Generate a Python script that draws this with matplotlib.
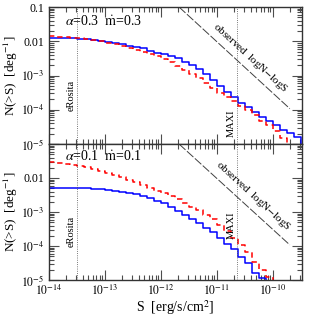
import numpy as np
import matplotlib
matplotlib.use('Agg')
import matplotlib.pyplot as plt
from matplotlib.ticker import FixedLocator, FixedFormatter, LogLocator, NullFormatter

plt.rcParams['font.family'] = ['Liberation Serif', 'DejaVu Serif']
plt.rcParams['mathtext.fontset'] = 'stix'

# log10 S bin edges (0.125 dex bins starting at 1e-14)
log_s_start = -14.0
log_s_step = 0.125

# log10 N(>S) per bin
top_blue = [-1.91, -1.91, -1.91, -1.91, -1.92, -1.93, -1.95, -1.98, -2.01, -2.05,
            -2.09, -2.13, -2.17, -2.21, -2.28, -2.33, -2.37, -2.42, -2.50, -2.60,
            -2.70, -2.82, -2.97, -3.12, -3.30, -3.47, -3.62, -3.80, -3.93, -4.07,
            -4.22, -4.33, -4.45, -4.58, -4.68, -4.80]
top_red = [-1.86, -1.88, -1.89, -1.90, -1.91, -1.93, -1.96, -2.00, -2.04, -2.08,
           -2.13, -2.19, -2.25, -2.31, -2.38, -2.44, -2.51, -2.60, -2.71, -2.83,
           -2.95, -3.07, -3.22, -3.37, -3.52, -3.63, -3.75, -3.90, -4.02, -4.15,
           -4.32, -4.45, -4.62, -4.83]
bot_blue = [-2.29, -2.29, -2.29, -2.29, -2.29, -2.30, -2.31, -2.33, -2.35, -2.37,
            -2.40, -2.44, -2.48, -2.52, -2.60, -2.67, -2.74, -2.85, -2.96, -3.08,
            -3.20, -3.32, -3.47, -3.60, -3.75, -3.95, -4.10, -4.32, -4.50, -4.80,
            -4.94]
bot_red = [-1.53, -1.56, -1.59, -1.62, -1.65, -1.69, -1.73, -1.78, -1.84, -1.90,
           -1.97, -2.05, -2.13, -2.22, -2.30, -2.37, -2.43, -2.52, -2.62, -2.73,
           -2.85, -2.95, -3.08, -3.22, -3.38, -3.55, -3.75, -3.97, -4.18, -4.48,
           -4.72, -4.90]

panel_labels = [r'$\alpha$=0.3  $\dot{\rm m}$=0.3', r'$\alpha$=0.1  $\dot{\rm m}$=0.1']

S_erosita = 3.16e-14
S_maxi = 2.3e-11

# observed logN-logS: N = N0 (S/S0)^-1.5
obs_S0 = 2.1e-12
obs_N0 = 0.1
obs_Smax = 2.0e-10

xmin, xmax = 1e-14, 3.3e-10
ymin, ymax = 1e-5, 0.1


def steps(logn):
    n = len(logn)
    edges = 10 ** (log_s_start + log_s_step * np.arange(n + 1))
    vals = np.append(10 ** np.array(logn), 1e-8)
    return edges, vals


fig = plt.figure(figsize=(3.19, 3.19), dpi=100)
ax1 = fig.add_axes([49/319, 1-144/319, 253/319, 137/319])
ax2 = fig.add_axes([49/319, 1-280/319, 253/319, 136/319])

panels = [(ax1, top_blue, top_red, 0.89, 0.357, 0.153, 0.794, 0.628),
          (ax2, bot_blue, bot_red, 0.905, 0.36, 0.404, 0.806, 0.618)]

for i, (ax, blue, red, ylab, yero, ymaxi, xobs, yobs) in enumerate(panels):
    ax.set_xscale('log')
    ax.set_yscale('log')
    ax.set_xlim(xmin, xmax)
    ax.set_ylim(ymin, ymax)

    x, y = steps(blue)
    ax.step(x, y, where='post', color='#0000ff', lw=1.1)
    x, y = steps(red)
    ax.step(x, y, where='post', color='#ff0000', lw=1.1, linestyle=(0, (3.5, 2.5)))

    # sensitivity limits
    ax.axvline(S_erosita, color='0.3', lw=0.6, linestyle=':')
    ax.axvline(S_maxi, color='0.3', lw=0.6, linestyle=':')
    ax.text(S_erosita * 0.93, yero, 'eRosita', transform=ax.get_xaxis_transform(),
            rotation=90, ha='right', va='center', fontsize=7.5)
    ax.text(S_maxi * 0.93, ymaxi, 'MAXI', transform=ax.get_xaxis_transform(),
            rotation=90, ha='right', va='center', fontsize=7.5)

    # observed logN-logS
    s_obs = np.array([obs_S0, obs_Smax])
    ax.plot(s_obs, obs_N0 * (s_obs / obs_S0) ** -1.5, color='0.25', lw=0.7,
            linestyle=(0, (9, 2)))
    ax.text(xobs, yobs, r'observed  logN$-$logS', transform=ax.transAxes,
            rotation=-42.5, ha='center', va='center', fontsize=8)

    ax.text(0.063, ylab, panel_labels[i], transform=ax.transAxes,
            ha='left', va='center', fontsize=10)

    ax.set_ylabel(r'N(>S)  [deg$^{-1}$]', fontsize=9.5)

    ax.xaxis.set_major_locator(FixedLocator([1e-14, 1e-13, 1e-12, 1e-11, 1e-10]))
    ax.xaxis.set_minor_locator(LogLocator(base=10, subs=np.arange(2, 10), numticks=20))
    ax.xaxis.set_minor_formatter(NullFormatter())
    ax.yaxis.set_major_locator(FixedLocator([1e-5, 1e-4, 1e-3, 1e-2, 1e-1]))
    ax.yaxis.set_minor_locator(LogLocator(base=10, subs=np.arange(2, 10), numticks=20))
    ax.yaxis.set_minor_formatter(NullFormatter())
    if i == 0:
        ylabels = [r'$10^{-5}$', r'$10^{-4}$', r'$10^{-3}$', '0.01', '0.1']
    else:
        ylabels = [r'$10^{-5}$', r'$10^{-4}$', r'$10^{-3}$', '0.01', '']
    ax.yaxis.set_major_formatter(FixedFormatter(ylabels))
    ax.xaxis.set_major_formatter(FixedFormatter([r'$10^{-14}$', r'$10^{-13}$',
                                                 r'$10^{-12}$', r'$10^{-11}$',
                                                 r'$10^{-10}$']))
    ax.tick_params(which='both', direction='in', top=True, right=True,
                   labelsize=8.5, color='0.3', width=0.8)
    ax.tick_params(which='major', length=7)
    ax.tick_params(which='minor', length=3.5)
    ax.tick_params(axis='x', pad=3)
    for sp in ax.spines.values():
        sp.set_linewidth(1.0)
        sp.set_color('0.2')

ax1.tick_params(labelbottom=False)
ax1.yaxis.set_label_coords(-0.115, 0.5)
ax2.yaxis.set_label_coords(-0.115, 0.5)
ax2.set_xlabel(r'S  [erg/s/cm$^2$]', fontsize=10, labelpad=0)

fig.savefig('out.png', dpi=100)
